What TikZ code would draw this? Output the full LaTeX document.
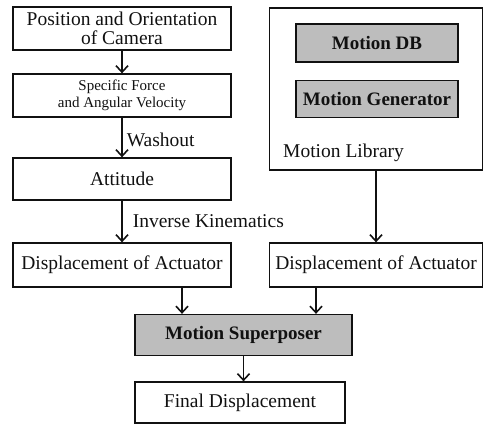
\documentclass[tikz,border=0pt]{standalone}
\usepackage{fontspec}
\setmainfont{Liberation Serif}
\usetikzlibrary{arrows.meta,positioning,calc}
\definecolor{ink}{HTML}{111111}
\definecolor{shade}{HTML}{BDBDBD}
\tikzset{
  box/.style={draw=ink,fill=white,line width=1.3pt,minimum width=218pt,minimum height=43pt,align=center,inner sep=0pt,text=ink,font=\fontsize{19.5}{19.5}\selectfont},
  gbox/.style={box,fill=shade,font=\bfseries\fontsize{19}{19}\selectfont},
  small/.style={font=\fontsize{15}{17}\selectfont},
  arr/.style={-{Straight Barb[length=6.5pt,width=12pt,line width=1.6pt]},line width=1.6pt,ink},
  lab/.style={font=\fontsize{19.5}{20}\selectfont,inner sep=0pt,text=ink,anchor=west}
}
\begin{document}
\begin{tikzpicture}[x=1pt,y=-1pt]
\useasboundingbox (0,0) rectangle (489,425);
% ================= left chain =================
\node[box] (pos) at (122,28.5) {Position and Orientation\\of Camera};
\node[box,small] (sfav) at (122,95.5) {Specific Force\\and Angular Velocity};
\node[box,minimum height=42pt] (att) at (122,179) {Attitude};
\node[box,minimum height=44pt] (dispL) at (122,265) {Displacement of Actuator};
\draw[arr] (pos) -- (sfav);
\draw[arr] (sfav) -- (att) node[lab,pos=0.55,xshift=4pt] {Washout};
\draw[arr] (att) -- (dispL) node[lab,pos=0.5,xshift=10pt] {Inverse Kinematics};
% ================= motion library =================
\node[box,minimum width=213pt,minimum height=162pt] (lib) at (376,89) {};
\node[gbox,minimum width=162pt,minimum height=38pt] (mdb) at (377,43) {Motion DB};
\node[gbox,minimum width=162pt,minimum height=37pt] (mgen) at (377,99) {Motion Generator};
\node[lab] (liblab) at (283,153) {Motion Library};
\node[box,minimum width=213pt,minimum height=44pt] (dispR) at (376,265) {Displacement of Actuator};
\draw[arr] (lib) -- (dispR);
% ================= superposer =================
\node[gbox,minimum width=217pt,minimum height=41pt] (sup) at (243.5,335) {Motion Superposer};
\node[box,minimum width=210pt,minimum height=41pt] (fin) at (240,402.5) {Final Displacement};
\coordinate (inL) at ([xshift=-61.5pt]sup.north);
\coordinate (inR) at ([xshift=72.5pt]sup.north);
\draw[arr] (dispL.south -| inL) -- (inL);
\draw[arr] (dispR.south -| inR) -- (inR);
\draw[arr] (sup.south) -- (sup.south |- fin.north);
\end{tikzpicture}
\end{document}
